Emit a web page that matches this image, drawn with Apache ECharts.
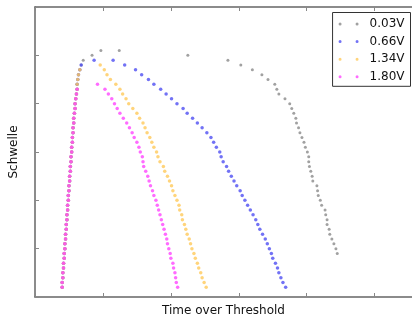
<!DOCTYPE html>
<html>
<head>
<meta charset="utf-8">
<script src="https://cdn.jsdelivr.net/npm/echarts@6/dist/echarts.min.js"></script>
<style>html,body{margin:0;padding:0;background:#fff;}#c{width:412px;height:322px;}</style>
</head>
<body>
<div id="c"></div>
<script>
// Threshold levels (y), shared by all series
const thresholds = [0.2,0.3,0.4,0.5,0.6,0.7,0.8,0.9,1.0,1.1,1.2,1.3,1.4,1.5,1.6,1.7,1.8,1.9,2.0,2.1,2.2,2.3,2.4,2.5,2.6,2.7,2.8,2.9,3.0,3.1,3.2,3.3,3.4,3.5,3.6,3.7,3.8,3.9,4.0,4.1,4.2,4.3,4.4,4.5,4.6,4.7,4.8,4.9,5.0,5.1];
// Rising (left) edge, common to all series
const riseX = [0.40,0.40,0.41,0.41,0.42,0.42,0.43,0.43,0.44,0.44,0.45,0.45,0.46,0.46,0.47,0.47,0.48,0.48,0.49,0.49,0.50,0.50,0.51,0.51,0.52,0.52,0.53,0.53,0.54,0.54,0.55,0.55,0.56,0.56,0.57,0.57,0.58,0.59,0.59,0.60,0.61,0.62,0.62,0.63,0.64,0.66,0.68,null,null,null];
// Falling (right) edges
const grayRight = [null,null,null,null,null,null,null,4.45,4.43,4.40,4.37,4.34,4.33,4.30,4.30,4.28,4.27,4.22,4.20,4.17,4.16,4.15,4.09,4.08,4.06,4.04,4.03,4.03,4.01,3.98,3.96,3.93,3.90,3.88,3.85,3.84,3.81,3.78,3.75,3.68,3.59,3.56,3.53,3.43,3.34,3.20,3.03,2.84,2.25,1.24];
const blueRight = [3.69,3.65,3.62,3.59,3.57,3.54,3.50,3.48,3.45,3.42,3.39,3.35,3.31,3.28,3.25,3.21,3.17,3.13,3.09,3.05,3.02,2.97,2.93,2.89,2.85,2.82,2.77,2.74,2.72,2.67,2.63,2.59,2.53,2.46,2.39,2.32,2.24,2.18,2.09,2.01,1.93,1.85,1.75,1.67,1.57,1.48,1.32,1.15,null,null];
const yellowRight = [2.52,2.49,2.46,2.44,2.41,2.39,2.36,2.34,2.31,2.29,2.27,2.24,2.22,2.20,2.17,2.16,2.13,2.12,2.09,2.06,2.03,2.01,1.98,1.95,1.91,1.89,1.84,1.81,1.79,1.75,1.72,1.69,1.65,1.62,1.59,1.54,1.50,1.44,1.38,1.34,1.29,1.25,1.19,1.11,1.06,1.02,0.96,null,null,null];
const magentaRight = [2.10,2.08,2.07,2.06,2.04,2.03,2.00,1.99,1.97,1.95,1.94,1.92,1.90,1.88,1.86,1.84,1.82,1.80,1.78,1.75,1.73,1.70,1.68,1.66,1.63,1.60,1.59,1.58,1.55,1.53,1.50,1.46,1.43,1.39,1.35,1.30,1.25,1.21,1.17,1.13,1.08,1.03,0.92,null,null,null,null,null,null,null];
// Highest threshold on the rising edge for each series, and extra peak points [x, y]
const leftTop = {gray: 4.8, blue: 4.8, yellow: 4.7, magenta: 4.3};
const grayPeak = [[0.71,4.9],[0.84,5.0],[0.97,5.1]];
const bluePeak = [[0.87,4.9]];
const yellowPeak = [];
const magentaPeak = [];
const seriesNames = ['0.03V','0.66V','1.34V','1.80V'];

function build(right, top, peak) {
  const pts = [];
  thresholds.forEach((t, i) => {
    if (riseX[i] !== null && t <= top + 1e-9) pts.push([riseX[i], t]);
  });
  peak.forEach(p => pts.push(p));
  thresholds.forEach((t, i) => {
    if (right[i] !== null) pts.push([right[i], t]);
  });
  return pts;
}

const colors = ['#8a8a8a', '#4f4ff2', '#ffc95a', '#ff46ff'];
const datas = [
  build(grayRight, leftTop.gray, grayPeak),
  build(blueRight, leftTop.blue, bluePeak),
  build(yellowRight, leftTop.yellow, yellowPeak),
  build(magentaRight, leftTop.magenta, magentaPeak)
];

const chart = echarts.init(document.getElementById('c'), null, {renderer: 'canvas'});
const axisCommon = {
  min: 0, interval: 1,
  axisLine: {show: true, onZero: false, lineStyle: {color: '#666', width: 1.5}},
  axisTick: {show: true, inside: true, length: 4, lineStyle: {color: '#888'}},
  axisLabel: {show: false},
  splitLine: {show: false}
};
chart.setOption({
  animation: false,
  backgroundColor: '#fff',
  grid: {left: 35, right: 0, top: 7, bottom: 22},
  legend: {
    orient: 'vertical', right: 1.5, top: 12.5,
    data: seriesNames,
    icon: 'path://M0,1.5a1.5,1.5 0 1,0 3,0a1.5,1.5 0 1,0 -3,0M17,1.5a1.5,1.5 0 1,0 3,0a1.5,1.5 0 1,0 -3,0',
    itemWidth: 20, itemHeight: 3, itemGap: 4.6,
    borderColor: '#333', borderWidth: 1, borderRadius: 0,
    padding: [5, 6, 3, 6],
    backgroundColor: '#fff',
    textStyle: {fontFamily: 'DejaVu Sans', fontSize: 12, color: '#111', lineHeight: 13, padding: [0, 0, 0, 6]}
  },
  xAxis: [
    Object.assign({}, axisCommon, {type: 'value', max: 5.55, position: 'bottom',
      name: 'Time over Threshold', nameLocation: 'middle', nameGap: 8,
      nameTextStyle: {fontFamily: 'DejaVu Sans', fontSize: 12, color: '#111', verticalAlign: 'top'}}),
    Object.assign({}, axisCommon, {type: 'value', max: 5.55, position: 'top'})
  ],
  yAxis: [
    Object.assign({}, axisCommon, {type: 'value', max: 6, position: 'left',
      name: 'Schwelle', nameLocation: 'middle', nameGap: 15,
      nameTextStyle: {fontFamily: 'DejaVu Sans', fontSize: 12, color: '#111'}})
  ],
  series: seriesNames.map((n, k) => ({
    name: n, type: 'scatter', xAxisIndex: 0, yAxisIndex: 0,
    symbol: 'circle', symbolSize: k === 0 ? 3 : 3.5,
    itemStyle: {color: colors[k]},
    data: datas[k], z: 2 + k
  }))
});
</script>
</body>
</html>
